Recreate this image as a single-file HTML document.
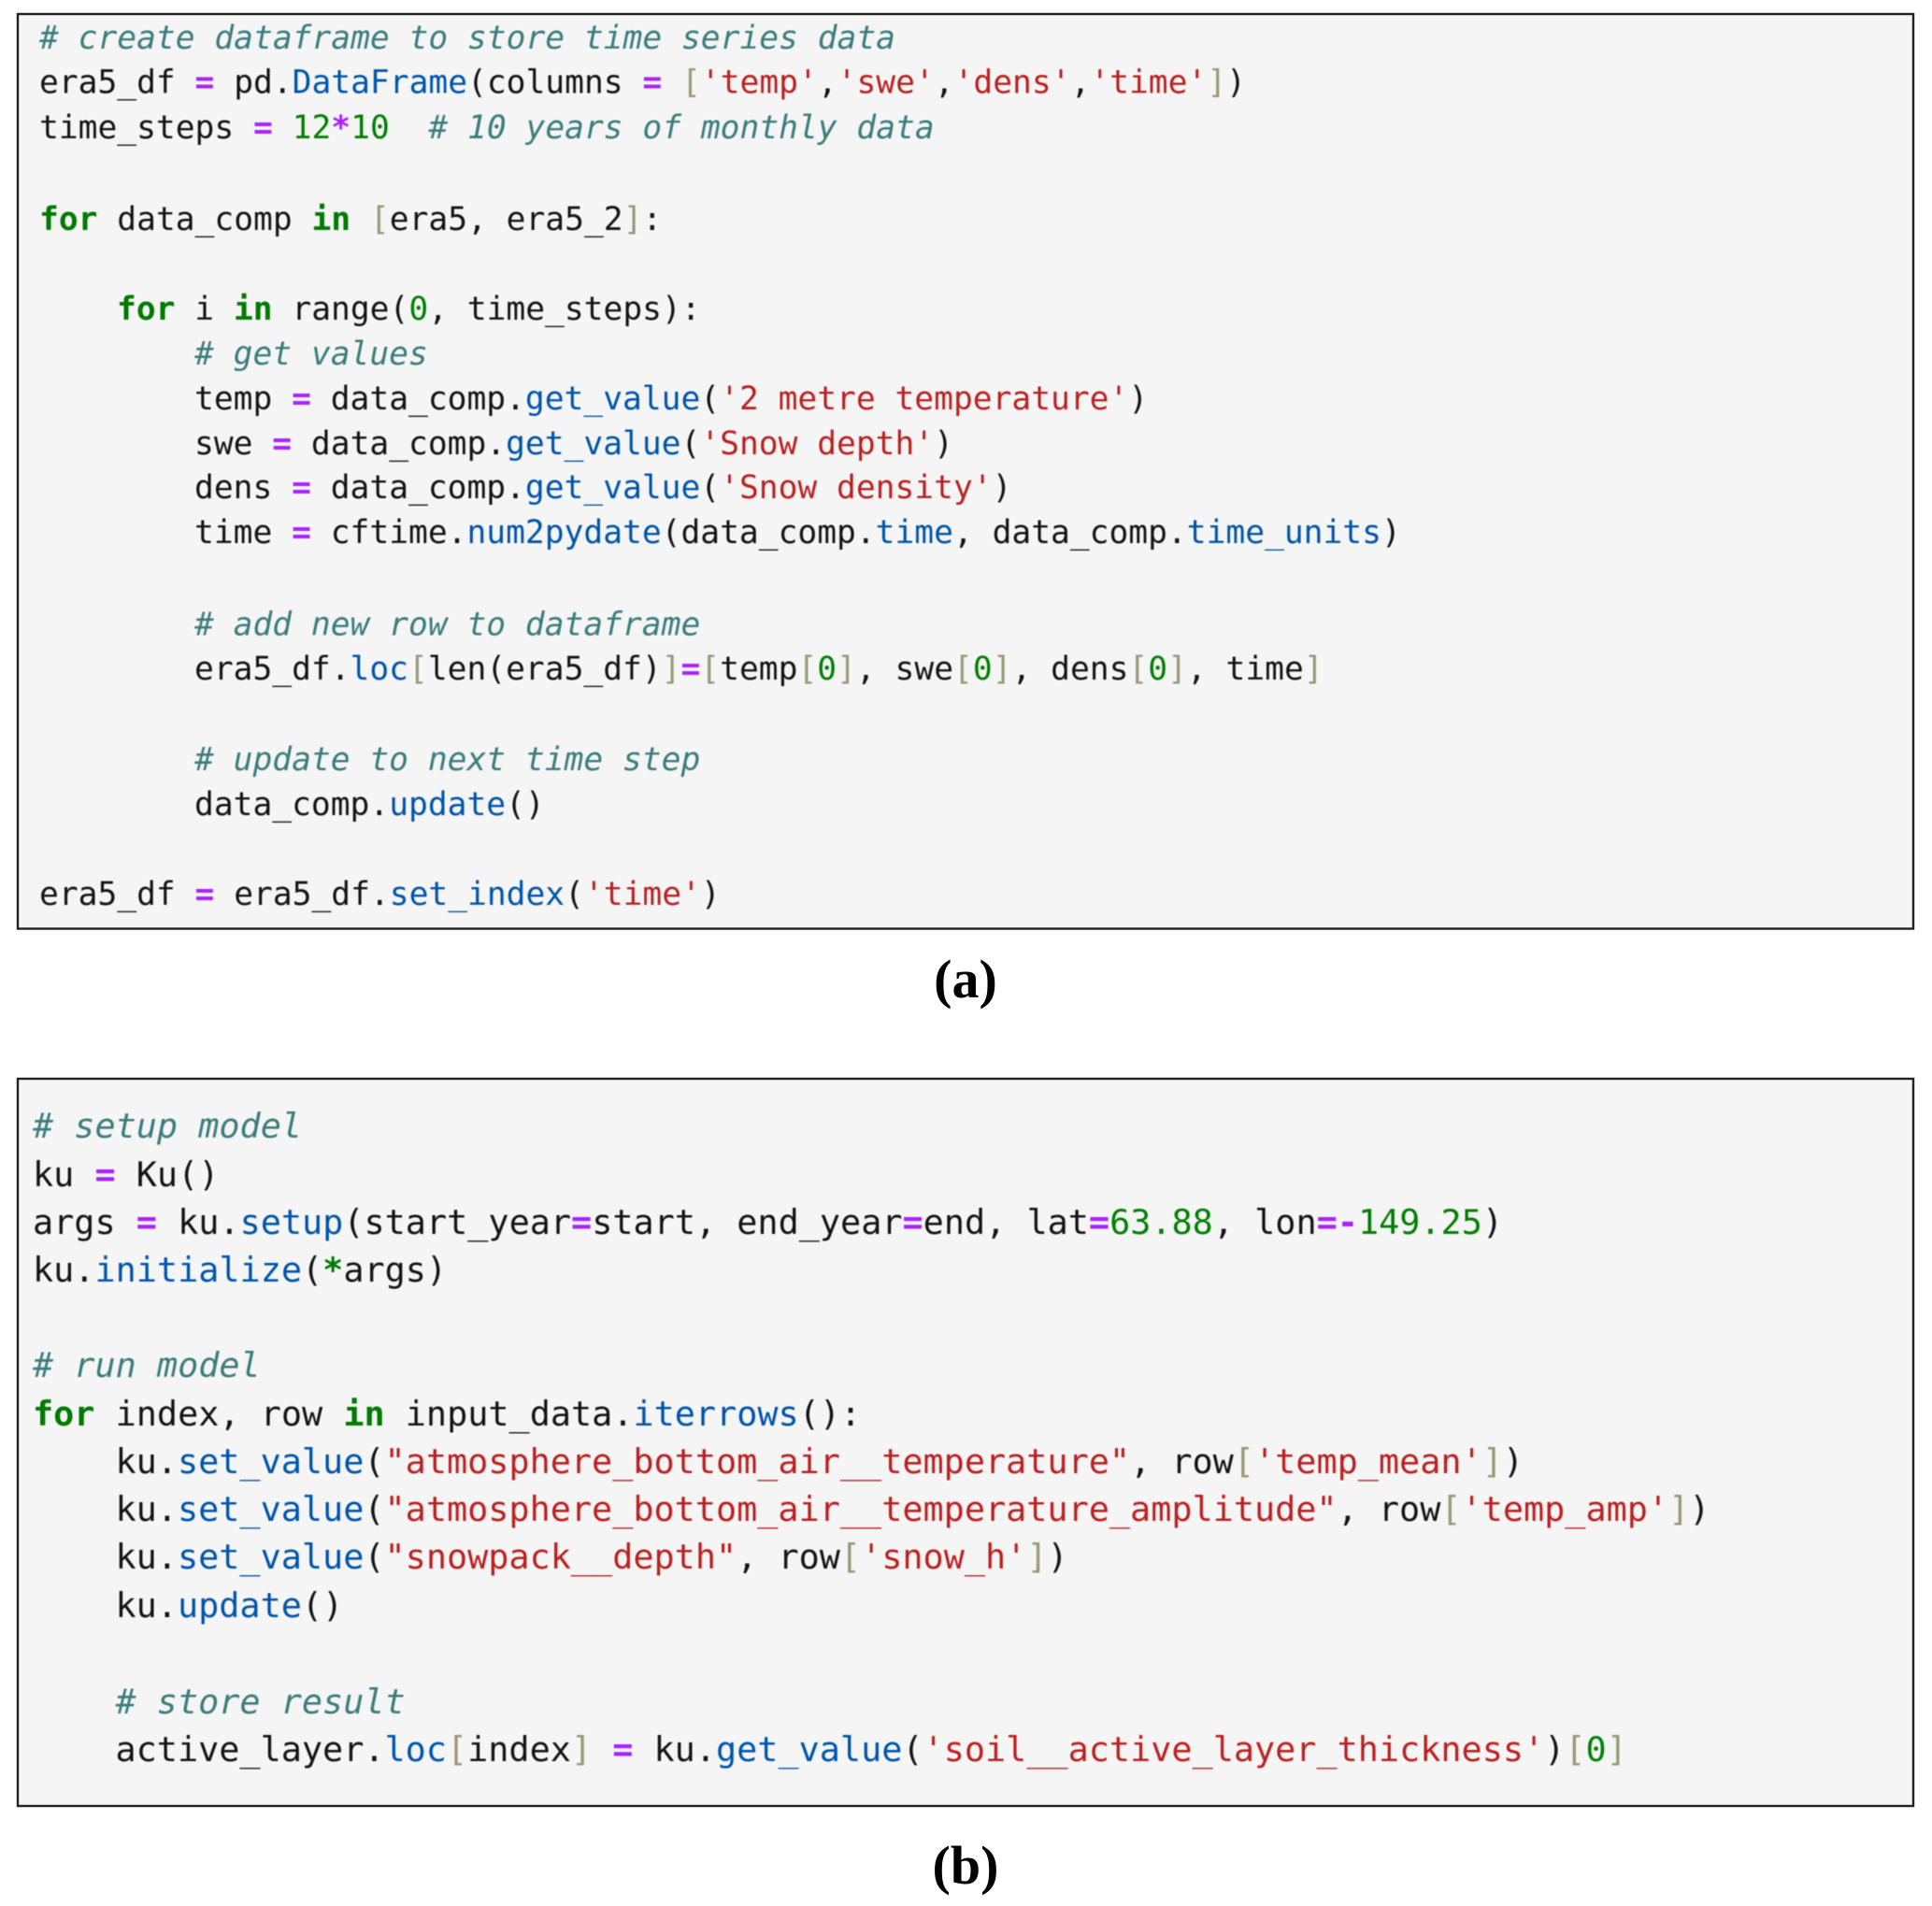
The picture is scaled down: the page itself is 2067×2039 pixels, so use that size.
<!DOCTYPE html>
<html><head><meta charset="utf-8">
<style>
html,body{margin:0;padding:0;background:#fff;width:2067px;height:2039px;overflow:hidden}
svg{display:block}
text{white-space:pre;font-family:"DejaVu Sans Mono","Liberation Mono",monospace;fill:#141414}
.a,.b{filter:blur(.45px)}
.a text{font-size:34.58px}
.b text{font-size:36.8px}
.c{fill:#3b7d7d;font-style:italic}
.k{fill:#007a00;font-weight:bold}
.o{fill:#aa22ff;font-weight:bold}
.s{fill:#ba2121}
.n{fill:#008000}
.p{fill:#0055aa}
.r{fill:#999977}
text.cap{font-family:"Liberation Serif",serif;font-weight:bold;font-size:58px;fill:#000;text-anchor:middle}
</style></head><body>
<svg width="2067" height="2039" viewBox="0 0 2067 2039" xmlns="http://www.w3.org/2000/svg" xml:space="preserve">
<rect x="19" y="15" width="2028" height="978.500" fill="#f5f5f5" stroke="#222" stroke-width="2.4"/>
<rect x="19" y="1154" width="2028" height="778" fill="#f5f5f5" stroke="#222" stroke-width="2.4"/>
<g class="a">
<text x="42" y="52" class="c"># create dataframe to store time series data</text>
<text x="42" y="99.5">era5_df <tspan class="o">=</tspan> pd.<tspan class="p">DataFrame</tspan>(columns <tspan class="o">=</tspan> <tspan class="r">[</tspan><tspan class="s">'temp'</tspan>,<tspan class="s">'swe'</tspan>,<tspan class="s">'dens'</tspan>,<tspan class="s">'time'</tspan><tspan class="r">]</tspan>)</text>
<text x="42" y="148">time_steps <tspan class="o">=</tspan> <tspan class="n">12</tspan><tspan class="o">*</tspan><tspan class="n">10</tspan>  <tspan class="c"># 10 years of monthly data</tspan></text>
<text x="42" y="246"><tspan class="k">for</tspan> data_comp <tspan class="k">in</tspan> <tspan class="r">[</tspan>era5, era5_2<tspan class="r">]</tspan>:</text>
<text x="125" y="342"><tspan class="k">for</tspan> i <tspan class="k">in</tspan> range(<tspan class="n">0</tspan>, time_steps):</text>
<text x="208" y="390" class="c"># get values</text>
<text x="208" y="438">temp <tspan class="o">=</tspan> data_comp.<tspan class="p">get_value</tspan>(<tspan class="s">'2 metre temperature'</tspan>)</text>
<text x="208" y="486">swe <tspan class="o">=</tspan> data_comp.<tspan class="p">get_value</tspan>(<tspan class="s">'Snow depth'</tspan>)</text>
<text x="208" y="533">dens <tspan class="o">=</tspan> data_comp.<tspan class="p">get_value</tspan>(<tspan class="s">'Snow density'</tspan>)</text>
<text x="208" y="581">time <tspan class="o">=</tspan> cftime.<tspan class="p">num2pydate</tspan>(data_comp.<tspan class="p">time</tspan>, data_comp.<tspan class="p">time_units</tspan>)</text>
<text x="208" y="679.5" class="c"># add new row to dataframe</text>
<text x="208" y="727">era5_df.<tspan class="p">loc</tspan><tspan class="r">[</tspan>len(era5_df)<tspan class="r">]</tspan><tspan class="o">=</tspan><tspan class="r">[</tspan>temp<tspan class="r">[</tspan><tspan class="n">0</tspan><tspan class="r">]</tspan>, swe<tspan class="r">[</tspan><tspan class="n">0</tspan><tspan class="r">]</tspan>, dens<tspan class="r">[</tspan><tspan class="n">0</tspan><tspan class="r">]</tspan>, time<tspan class="r">]</tspan></text>
<text x="208" y="824" class="c"># update to next time step</text>
<text x="208" y="872">data_comp.<tspan class="p">update</tspan>()</text>
<text x="42" y="968">era5_df <tspan class="o">=</tspan> era5_df.<tspan class="p">set_index</tspan>(<tspan class="s">'time'</tspan>)</text>
</g>
<g class="b">
<text x="35" y="1217" class="c"># setup model</text>
<text x="35" y="1269">ku <tspan class="o">=</tspan> Ku()</text>
<text x="35" y="1320">args <tspan class="o">=</tspan> ku.<tspan class="p">setup</tspan>(start_year<tspan class="o">=</tspan>start, end_year<tspan class="o">=</tspan>end, lat<tspan class="o">=</tspan><tspan class="n">63.88</tspan>, lon<tspan class="o">=-</tspan><tspan class="n">149.25</tspan>)</text>
<text x="35" y="1371">ku.<tspan class="p">initialize</tspan>(<tspan class="k">*</tspan>args)</text>
<text x="35" y="1473" class="c"># run model</text>
<text x="35" y="1525"><tspan class="k">for</tspan> index, row <tspan class="k">in</tspan> input_data.<tspan class="p">iterrows</tspan>():</text>
<text x="123.500" y="1576">ku.<tspan class="p">set_value</tspan>(<tspan class="s">"atmosphere_bottom_air__temperature"</tspan>, row<tspan class="r">[</tspan><tspan class="s">'temp_mean'</tspan><tspan class="r">]</tspan>)</text>
<text x="123.500" y="1627">ku.<tspan class="p">set_value</tspan>(<tspan class="s">"atmosphere_bottom_air__temperature_amplitude"</tspan>, row<tspan class="r">[</tspan><tspan class="s">'temp_amp'</tspan><tspan class="r">]</tspan>)</text>
<text x="123.500" y="1678">ku.<tspan class="p">set_value</tspan>(<tspan class="s">"snowpack__depth"</tspan>, row<tspan class="r">[</tspan><tspan class="s">'snow_h'</tspan><tspan class="r">]</tspan>)</text>
<text x="123.500" y="1730">ku.<tspan class="p">update</tspan>()</text>
<text x="123.500" y="1833" class="c"># store result</text>
<text x="123.500" y="1884">active_layer.<tspan class="p">loc</tspan><tspan class="r">[</tspan>index<tspan class="r">]</tspan> <tspan class="o">=</tspan> ku.<tspan class="p">get_value</tspan>(<tspan class="s">'soil__active_layer_thickness'</tspan>)<tspan class="r">[</tspan><tspan class="n">0</tspan><tspan class="r">]</tspan></text>
</g>
<text x="1033" y="1067" class="cap">(a)</text>
<text x="1033" y="2015" class="cap">(b)</text>
</svg>
</body></html>
